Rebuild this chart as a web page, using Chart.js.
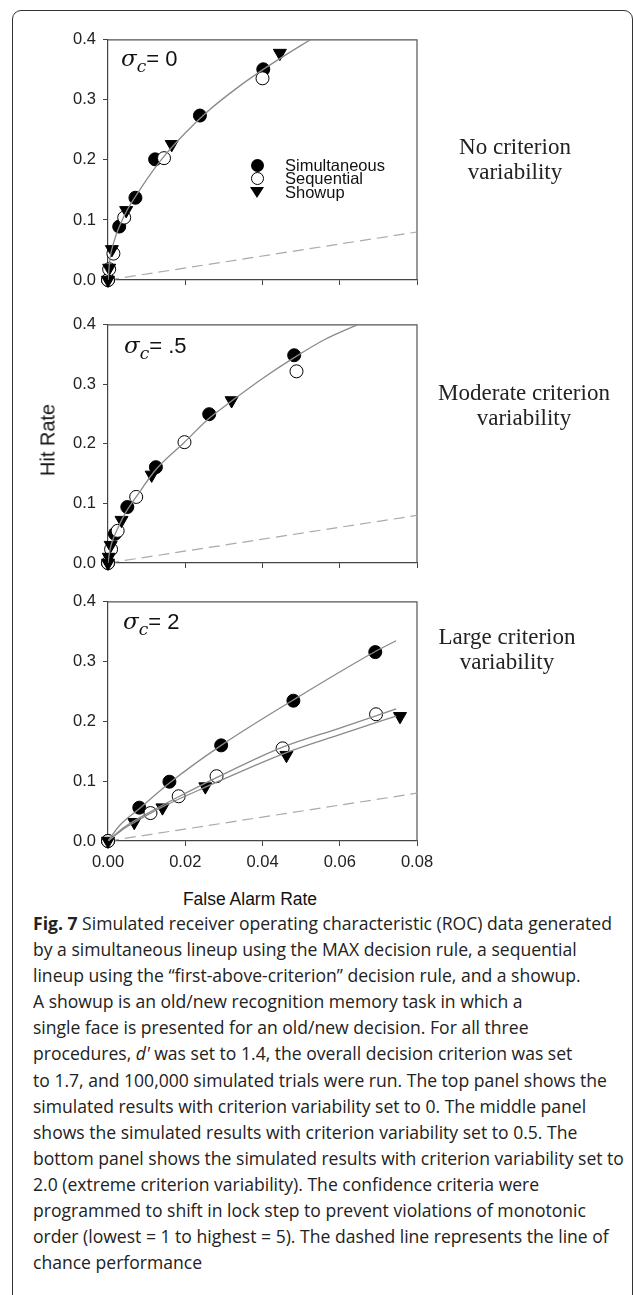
<!DOCTYPE html>
<html>
<head>
<meta charset="utf-8">
<script src="https://cdn.jsdelivr.net/npm/chart.js@4.4.1/dist/chart.umd.min.js"></script>
<style>
  body { margin: 0; background: #fff; width: 633px; height: 1295px; overflow: hidden; position: relative; font-family: "Liberation Sans", Arial, sans-serif; }
  .frame { position: absolute; left: 12px; top: 10px; width: 618.5px; height: 1320px; border: 1.5px solid #333; border-radius: 9px; }
  canvas { position: absolute; left: 0; }
  .side { position: absolute; font-family: "Liberation Serif", "Times New Roman", serif; font-size: 23px; line-height: 25px; text-align: center; color: #222; width: 220px; }
  .sigma { position: absolute; font-size: 22px; color: #111; }
  .sigma i { font-family: "DejaVu Serif", serif; font-size: 23px; }
  .sigma sub { font-size: 17px; vertical-align: -6px; }
  .legend { position: absolute; left: 250px; top: 159px; font-size: 16.5px; line-height: 13.3px; color: #111; }
  .legend div { position: relative; padding-left: 35px; height: 13.3px; }
  .dot { position: absolute; left: 1px; top: 0px; width: 13px; height: 13px; border-radius: 50%; box-sizing: border-box; }
  .tri { position: absolute; left: 0px; top: 1px; width: 0; height: 0; border-left: 7px solid transparent; border-right: 7px solid transparent; border-top: 11px solid #000; }
  .ylab { position: absolute; left: 48px; top: 440px; font-size: 20px; color: #111; transform: translate(-50%, -50%) rotate(-90deg); white-space: nowrap; }
  .xlab { position: absolute; left: 250px; top: 899px; font-size: 17.5px; color: #111; transform: translate(-50%, -50%); white-space: nowrap; }
  .caption { position: absolute; left: 33px; top: 910px; font-family: "Open Sans", sans-serif; font-size: 18px; line-height: 26.1px; color: #222; transform-origin: left top; white-space: nowrap; }
</style>
</head>
<body>
<div class="frame"></div>

<canvas id="c1"></canvas>
<canvas id="c2"></canvas>
<canvas id="c3"></canvas>

<div class="sigma" style="left:121px; top:45px;"><i>σ<sub>c</sub></i>= 0</div>
<div class="sigma" style="left:124px; top:332px;"><i>σ<sub>c</sub></i>= .5</div>
<div class="sigma" style="left:123px; top:608px;"><i>σ<sub>c</sub></i>= 2</div>

<div class="legend">
  <div><span class="dot" style="background:#000"></span>Simultaneous</div>
  <div><span class="dot" style="background:#fff;border:1px solid #000"></span>Sequential</div>
  <div><span class="tri"></span>Showup</div>
</div>

<div class="side" style="left:405px; top:134px;">No criterion<br>variability</div>
<div class="side" style="left:414px; top:380px;">Moderate criterion<br>variability</div>
<div class="side" style="left:397px; top:624px;">Large criterion<br>variability</div>

<div class="ylab">Hit Rate</div>
<div class="xlab">False Alarm Rate</div>

<div class="caption" id="caption">
  <div><b>Fig. 7</b> Simulated receiver operating characteristic (ROC) data generated</div>
  <div>by a simultaneous lineup using the MAX decision rule, a sequential</div>
  <div>lineup using the “first-above-criterion” decision rule, and a showup.</div>
  <div>A showup is an old/new recognition memory task in which a</div>
  <div>single face is presented for an old/new decision. For all three</div>
  <div>procedures, <i>d'</i> was set to 1.4, the overall decision criterion was set</div>
  <div>to 1.7, and 100,000 simulated trials were run. The top panel shows the</div>
  <div>simulated results with criterion variability set to 0. The middle panel</div>
  <div>shows the simulated results with criterion variability set to 0.5. The</div>
  <div>bottom panel shows the simulated results with criterion variability set to</div>
  <div>2.0 (extreme criterion variability). The confidence criteria were</div>
  <div>programmed to shift in lock step to prevent violations of monotonic</div>
  <div>order (lowest = 1 to highest = 5). The dashed line represents the line of</div>
  <div>chance performance</div>
</div>

<script>
// axis ranges
const xMax = 0.08, xStep = 0.02;
const yMax = 0.4, yStep = 0.1;

// chance line (dashed)
const chanceLine = [[0, 0], [0.08, 0.08]];

// top panel: sigma_c = 0
const simulTop = [[0, 0], [0.0029, 0.089], [0.0071, 0.137], [0.0122, 0.201], [0.0238, 0.274], [0.0402, 0.351]];
const seqTop = [[0, 0], [0.0003, 0.018], [0.0014, 0.044], [0.0042, 0.104], [0.0145, 0.203], [0.0400, 0.336]];
const showTop = [[0, 0], [0.0003, 0.02], [0.0010, 0.051], [0.0047, 0.116], [0.0165, 0.226], [0.0445, 0.378]];
const curveTop = [[0, 0], [0.0005, 0.035], [0.0015, 0.063], [0.003, 0.09], [0.005, 0.117], [0.0075, 0.143],
  [0.0105, 0.172], [0.0145, 0.206], [0.02, 0.245], [0.026, 0.282], [0.033, 0.318], [0.04, 0.35], [0.046, 0.375], [0.0523, 0.4]];

// middle panel: sigma_c = .5
const simulMid = [[0, 0], [0.0018, 0.049], [0.0050, 0.094], [0.0124, 0.161], [0.0262, 0.250], [0.0482, 0.349]];
const seqMid = [[0, 0], [0.0008, 0.023], [0.0025, 0.054], [0.0073, 0.111], [0.0198, 0.203], [0.0488, 0.322]];
const showMid = [[0, 0], [0.0002, 0.010], [0.0007, 0.030], [0.0035, 0.072], [0.0113, 0.148], [0.0320, 0.273]];
const curveMid = [[0, 0], [0.0005, 0.022], [0.0012, 0.038], [0.0025, 0.058], [0.0046, 0.085], [0.0073, 0.111],
  [0.0124, 0.157], [0.0198, 0.203], [0.0262, 0.243], [0.032, 0.272], [0.04, 0.31], [0.0482, 0.345], [0.056, 0.375], [0.0645, 0.4]];

// bottom panel: sigma_c = 2
const simulBot = [[0, 0], [0.0081, 0.0558], [0.0159, 0.0992], [0.0293, 0.160], [0.0480, 0.2347], [0.0692, 0.316]];
const seqBot = [[0, 0], [0.0110, 0.0467], [0.0183, 0.0748], [0.0281, 0.1084], [0.0452, 0.155], [0.0694, 0.212]];
const showBot = [[0, 0], [0.0068, 0.0314], [0.0141, 0.0558], [0.0252, 0.091], [0.0462, 0.1436], [0.0756, 0.2086]];
const curveBotSimul = [[0, 0], [0.003, 0.026], [0.0081, 0.054], [0.0159, 0.097], [0.0293, 0.16], [0.048, 0.236], [0.0692, 0.317], [0.0746, 0.335]];
const curveBotSeq = [[0, 0], [0.004, 0.022], [0.011, 0.049], [0.0183, 0.074], [0.0281, 0.106], [0.0452, 0.157], [0.06, 0.189], [0.0746, 0.221]];
const curveBotShow = [[0, 0], [0.004, 0.02], [0.0068, 0.031], [0.0141, 0.057], [0.0252, 0.09], [0.0462, 0.148], [0.06, 0.178], [0.0746, 0.209]];

const pts = arr => arr.map(p => ({ x: p[0], y: p[1] }));

// draws the top and right edges of the plot box
const boxPlugin = {
    id: 'box',
    beforeDatasetsDraw(chart) {
        const a = chart.chartArea, ctx = chart.ctx;
        ctx.save();
        ctx.strokeStyle = '#555';
        ctx.lineWidth = 1.2;
        ctx.beginPath();
        ctx.moveTo(a.left, a.top);
        ctx.lineTo(a.right, a.top);
        ctx.lineTo(a.right, a.bottom);
        ctx.stroke();
        ctx.restore();
    }
};

function makePanel(id, top, bottom, curves, simul, seq, show, xLabels) {
    const padTop = 10, xAxisH = xLabels ? 40 : 22;
    const canvas = document.getElementById(id);
    canvas.width = 450;
    canvas.height = (bottom - top) + padTop + xAxisH;
    canvas.style.top = (top - padTop) + 'px';

    const curveSets = curves.map(c => ({
        type: 'line', data: pts(c), borderColor: '#8a8a8a', borderWidth: 1.3,
        pointRadius: 0, cubicInterpolationMode: 'monotone', fill: false, order: 0
    }));

    new Chart(canvas.getContext('2d'), {
        type: 'scatter',
        data: {
            datasets: [
                ...curveSets,
                { type: 'line', data: pts(chanceLine), borderColor: '#aaa', borderWidth: 1.2, borderDash: [11, 6], pointRadius: 0, order: 5 },
                { label: 'Simultaneous', data: pts(simul), pointStyle: 'circle', pointRadius: 6.5, backgroundColor: '#000', borderColor: '#000', borderWidth: 1, clip: false, order: 3 },
                { label: 'Sequential', data: pts(seq), pointStyle: 'circle', pointRadius: 6.5, backgroundColor: '#fff', borderColor: '#000', borderWidth: 1, clip: false, order: 2 },
                { label: 'Showup', data: pts(show), pointStyle: 'triangle', rotation: 180, pointRadius: 7.5, backgroundColor: '#000', borderColor: '#000', borderWidth: 1, clip: false, order: 1 }
            ]
        },
        options: {
            responsive: false,
            animation: false,
            devicePixelRatio: 1,
            layout: { padding: { top: padTop, right: 33, left: 0, bottom: 0 } },
            plugins: { legend: { display: false }, tooltip: { enabled: false } },
            scales: {
                x: {
                    type: 'linear', min: 0, max: xMax,
                    afterFit: s => { s.height = xAxisH; },
                    grid: { drawOnChartArea: false, drawTicks: true, tickLength: 5, color: '#444' },
                    border: { color: '#444', width: 1.2 },
                    ticks: {
                        stepSize: xStep, padding: 7, color: '#222',
                        font: { family: 'Liberation Sans', size: 16.5 },
                        callback: v => xLabels ? v.toFixed(2) : ''
                    }
                },
                y: {
                    type: 'linear', min: 0, max: yMax,
                    afterFit: s => { s.width = 108; },
                    grid: { drawOnChartArea: false, drawTicks: true, tickLength: 5, color: '#444' },
                    border: { color: '#444', width: 1.2 },
                    ticks: {
                        stepSize: yStep, padding: 7, color: '#222',
                        font: { family: 'Liberation Sans', size: 16.5 },
                        callback: v => v.toFixed(1)
                    }
                }
            }
        },
        plugins: [boxPlugin]
    });
}

makePanel('c1', 33, 280, [curveTop], simulTop, seqTop, showTop, false);
makePanel('c2', 318, 563, [curveMid], simulMid, seqMid, showMid, false);
makePanel('c3', 595, 841, [curveBotSimul, curveBotSeq, curveBotShow], simulBot, seqBot, showBot, true);

// squeeze the caption so the first line spans the same width as in the figure
const cap = document.getElementById('caption');
const range = document.createRange();
range.selectNodeContents(cap.children[0]);
const w = range.getBoundingClientRect().width;
cap.style.transform = 'scaleX(' + (579 / w).toFixed(4) + ')';
</script>
</body>
</html>
